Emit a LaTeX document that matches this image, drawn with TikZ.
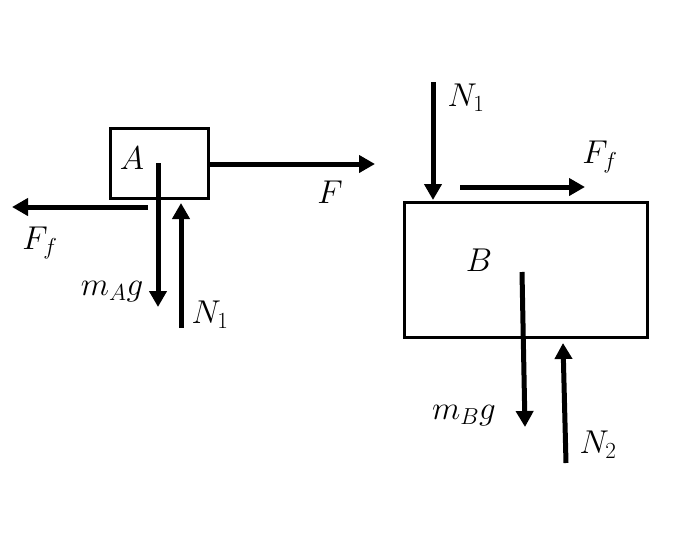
\documentclass[tikz,border=0pt]{standalone}
\usepackage{fix-cm}
\usetikzlibrary{arrows.meta}
\tikzset{
  force/.style={line width=5pt, -{Triangle[length=16pt,width=17pt]}},
  block/.style={draw, line width=3pt},
  lbl/.style={font=\fontsize{33}{40}\selectfont, inner sep=0pt}
}
\begin{document}
\begin{tikzpicture}[x=1pt, y=-1pt]
    \useasboundingbox (0, 0) rectangle (697, 560);
    % block A and the forces on it
    \draw[block] (110, 128) rectangle (208, 198);
    \node[lbl] (la) at (132, 158) {$A$};
    \coordinate (a1) at (208, 164);
    \coordinate (a2) at (375, 164);
    \coordinate (a3) at (148, 207);
    \coordinate (a4) at (12, 207);
    \coordinate (a5) at (158, 163);
    \coordinate (a6) at (158, 307);
    \coordinate (a7) at (181, 328);
    \coordinate (a8) at (181, 203);
    \draw[force] (a1) -- (a2);
    \draw[force] (a3) -- (a4);
    \draw[force] (a5) -- (a6);
    \draw[force] (a7) -- (a8);
    \node[lbl] (lf) at (330, 192) {$F$};
    \node[lbl] (lfa) at (40, 243) {$F_f$};
    \node[lbl] (lma) at (112, 292) {$m_A g$};
    \node[lbl] (lna) at (210, 315) {$N_1$};
    % block B and the forces on it
    \draw[block] (404, 202) rectangle (647, 337);
    \node[lbl] (lb) at (479, 260) {$B$};
    \coordinate (b1) at (433, 82);
    \coordinate (b2) at (433, 200);
    \coordinate (b3) at (460, 187);
    \coordinate (b4) at (585, 187);
    \coordinate (b5) at (522, 272);
    \coordinate (b6) at (525, 427);
    \coordinate (b7) at (566, 463);
    \coordinate (b8) at (563, 343);
    \draw[force] (b1) -- (b2);
    \draw[force] (b3) -- (b4);
    \draw[force] (b5) -- (b6);
    \draw[force] (b7) -- (b8);
    \node[lbl] (lnb) at (466, 98) {$N_1$};
    \node[lbl] (lfb) at (600, 157) {$F_f$};
    \node[lbl] (lmb) at (464, 416) {$m_B g$};
    \node[lbl] (ln2) at (598, 445) {$N_2$};
  \end{tikzpicture}
\end{document}
